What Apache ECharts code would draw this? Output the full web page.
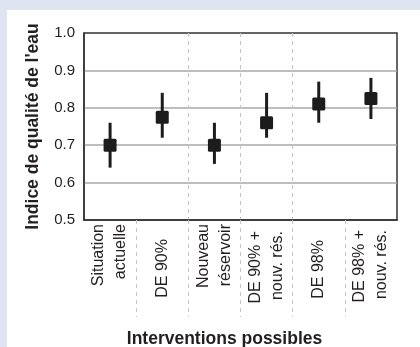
<!DOCTYPE html>
<html>
<head>
<meta charset="utf-8">
<script src="https://cdn.jsdelivr.net/npm/echarts@6/dist/echarts.min.js"></script>
<style>
  html, body { margin: 0; padding: 0; background: #dfe5f0; }
  #panel { position: absolute; left: 7px; top: 10px; width: 413px; height: 337px; background: #ffffff; }
  #chart { position: absolute; left: 0; top: 0; width: 420px; height: 347px; }
</style>
</head>
<body>
<div id="panel"></div>
<div id="chart"></div>
<script>
const categories = ['Situation\nactuelle', 'DE 90%', 'Nouveau\nréservoir', 'DE 90% +\nnouv. rés.', 'DE 98%', 'DE 98% +\nnouv. rés.'];
const meanValues = [0.70, 0.775, 0.70, 0.76, 0.81, 0.825];
const lowValues  = [0.64, 0.72, 0.65, 0.72, 0.76, 0.77];
const highValues = [0.76, 0.84, 0.76, 0.84, 0.87, 0.88];
const yMin = 0.5, yMax = 1.0, yStep = 0.1;
const separatorPositions = [1, 2, 3, 4, 5];

// layout only: extra distance of each rotated label from the axis (px)
const labelShift = [0, 15, 0, 7, 16, 6];

const FONT = '"Liberation Sans", Arial, Helvetica, sans-serif';
const TXT = '#231f20';
const DARK = '#1c1c1c';

const seriesData = categories.map((c, i) => [i, meanValues[i], lowValues[i], highValues[i]]);
const axisData = categories.map((c, i) => ({ value: c, textStyle: { padding: [0, labelShift[i], 0, 0] } }));

const chart = echarts.init(document.getElementById('chart'), null, { renderer: 'canvas' });
chart.setOption({
  backgroundColor: 'transparent',
  animation: false,
  grid: {
    left: 84, top: 33, right: 23, bottom: 127,
    outerBoundsMode: 'none', containLabel: false,
    show: true, borderColor: '#333', borderWidth: 1.5, backgroundColor: 'transparent'
  },
  xAxis: [
    {
      type: 'category',
      data: axisData,
      boundaryGap: true,
      axisLine: { show: true, lineStyle: { color: '#333', width: 1.5 } },
      axisTick: { show: false },
      splitLine: { show: false },
      axisLabel: {
        rotate: 90, margin: 4, fontSize: 16, lineHeight: 22,
        color: TXT, fontFamily: FONT, interval: 0
      },
      name: 'Interventions possibles',
      nameLocation: 'middle',
      nameGap: 110,
      nameTextStyle: { fontSize: 17.5, fontWeight: 'bold', color: TXT, fontFamily: FONT, padding: [0, 32, 0, 0] }
    },
    {
      type: 'value',
      min: 0, max: 6, interval: 1,
      position: 'bottom',
      axisLine: { show: false },
      axisLabel: { show: false },
      axisTick: {
        show: true, inside: false, length: 97,
        customValues: separatorPositions,
        lineStyle: { color: '#c4c4c4', width: 1, type: [4, 4] }
      },
      splitLine: {
        show: true, showMinLine: false, showMaxLine: false,
        lineStyle: { color: '#c4c4c4', width: 1, type: [4, 4] }
      }
    }
  ],
  yAxis: {
    type: 'value',
    min: yMin, max: yMax, interval: yStep,
    axisLine: { show: true, lineStyle: { color: '#333', width: 1.5 } },
    axisTick: { show: false },
    axisLabel: {
      margin: 9, fontSize: 15, color: TXT, fontFamily: FONT,
      formatter: v => v.toFixed(1)
    },
    splitLine: { show: true, showMinLine: false, showMaxLine: false, lineStyle: { color: '#a8a8a8', width: 1.5 } },
    name: "Indice de qualité de l'eau",
    nameLocation: 'middle',
    nameRotate: 90,
    nameGap: 42,
    nameTextStyle: { fontSize: 17.5, fontWeight: 'bold', color: TXT, fontFamily: FONT }
  },
  series: [{
    type: 'custom',
    xAxisIndex: 0,
    yAxisIndex: 0,
    data: seriesData,
    encode: { x: 0, y: 1 },
    renderItem: function (params, api) {
      const x = api.value(0);
      const p = api.coord([x, api.value(1)]);
      const lo = api.coord([x, api.value(2)]);
      const hi = api.coord([x, api.value(3)]);
      const s = 13;
      return {
        type: 'group',
        children: [
          { type: 'line', shape: { x1: p[0], y1: lo[1], x2: p[0], y2: hi[1] }, style: { stroke: DARK, lineWidth: 3 } },
          { type: 'rect', shape: { x: p[0] - s / 2, y: p[1] - s / 2, width: s, height: s, r: 1.5 }, style: { fill: DARK } }
        ]
      };
    }
  }]
});
</script>
</body>
</html>
